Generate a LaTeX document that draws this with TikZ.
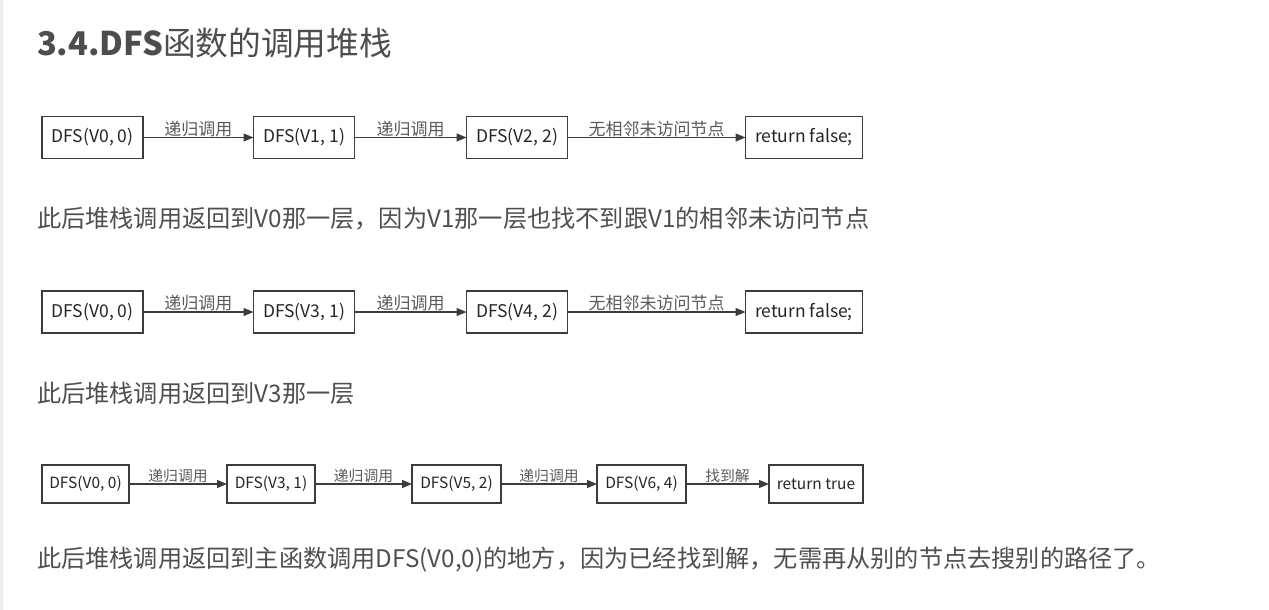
\documentclass[tikz,border=0pt]{standalone}
\usepackage{fontspec}
\setmainfont{Noto Sans CJK SC}
\usetikzlibrary{arrows.meta}
\definecolor{txtgray}{HTML}{4F4F4F}
\definecolor{titlegray}{HTML}{4D4D4D}
\definecolor{linegray}{HTML}{3C3C3C}
\definecolor{lblgray}{HTML}{5A5A5A}
\definecolor{edgegray}{HTML}{EEEEEE}

\begin{document}
\begin{tikzpicture}
[x=1pt,y=-1pt,%
  >={Triangle[length=10pt,width=8pt]},%
  every node/.style={inner sep=0pt,outer sep=0pt},%
  call/.style={draw=linegray,line width=1.2pt,fill=white,minimum height=42pt,
    font=\fontsize{17.5}{20}\selectfont,text=black!85},%
  small/.style={call,minimum height=38pt,font=\fontsize{15.5}{18}\selectfont},%
  lbl/.style={above=1pt,font=\fontsize{17}{19}\selectfont,text=lblgray},%
  slbl/.style={lbl,font=\fontsize{14.8}{17}\selectfont},%
  link/.style={->,line width=1.2pt,linegray},%
  para/.style={anchor=west,text=txtgray,font=\fontsize{24.2}{28}\selectfont}]
\useasboundingbox (0,0) rectangle (1269,610);
\fill[edgegray] (0,0) rectangle (2.5,610);

\node[anchor=west,text=titlegray,font=\fontsize{32.7}{38}\selectfont] (title)
  at (37,43) {\textbf{3.4.DFS}函数的调用堆栈};

% first descent: V0 -> V1 -> V2
\node[call,minimum width=101pt] (a1) at (92.5,137.5) {DFS(V0, 0)};
\node[call,minimum width=101pt] (a2) at (304,137.5) {DFS(V1, 1)};
\node[call,minimum width=101pt] (a3) at (517,137.5) {DFS(V2, 2)};
\node[call,minimum width=117pt] (a4) at (804,137.5) {return false;};
\draw[link] (a1) -- node[lbl] {递归调用} (a2);
\draw[link] (a2) -- node[lbl] {递归调用} (a3);
\draw[link] (a3) -- node[lbl] {无相邻未访问节点} (a4);

\node[para] (p1) at (37,219) {此后堆栈调用返回到V0那一层，因为V1那一层也找不到跟V1的相邻未访问节点};

% second descent: V0 -> V3 -> V4
\node[call,minimum width=101pt] (b1) at (92.5,312) {DFS(V0, 0)};
\node[call,minimum width=101pt] (b2) at (304,312) {DFS(V3, 1)};
\node[call,minimum width=101pt] (b3) at (517,312) {DFS(V4, 2)};
\node[call,minimum width=117pt] (b4) at (804,312) {return false;};
\draw[link] (b1) -- node[lbl] {递归调用} (b2);
\draw[link] (b2) -- node[lbl] {递归调用} (b3);
\draw[link] (b3) -- node[lbl] {无相邻未访问节点} (b4);

\node[para] (p2) at (37,393) {此后堆栈调用返回到V3那一层};

% third descent: V0 -> V3 -> V5 -> V6
\node[small,minimum width=87pt] (c1) at (85.5,484) {DFS(V0, 0)};
\node[small,minimum width=88pt] (c2) at (271,484) {DFS(V3, 1)};
\node[small,minimum width=89pt] (c3) at (456.5,484) {DFS(V5, 2)};
\node[small,minimum width=89pt] (c4) at (641.5,484) {DFS(V6, 4)};
\node[small,minimum width=94pt] (c5) at (816,484) {return true};
\draw[link] (c1) -- node[slbl] {递归调用} (c2);
\draw[link] (c2) -- node[slbl] {递归调用} (c3);
\draw[link] (c3) -- node[slbl] {递归调用} (c4);
\draw[link] (c4) -- node[slbl] {找到解} (c5);

\node[para] (p3) at (37,560) {此后堆栈调用返回到主函数调用DFS(V0,0)的地方，因为已经找到解，无需再从别的节点去搜别的路径了。};
\end{tikzpicture}
\end{document}
